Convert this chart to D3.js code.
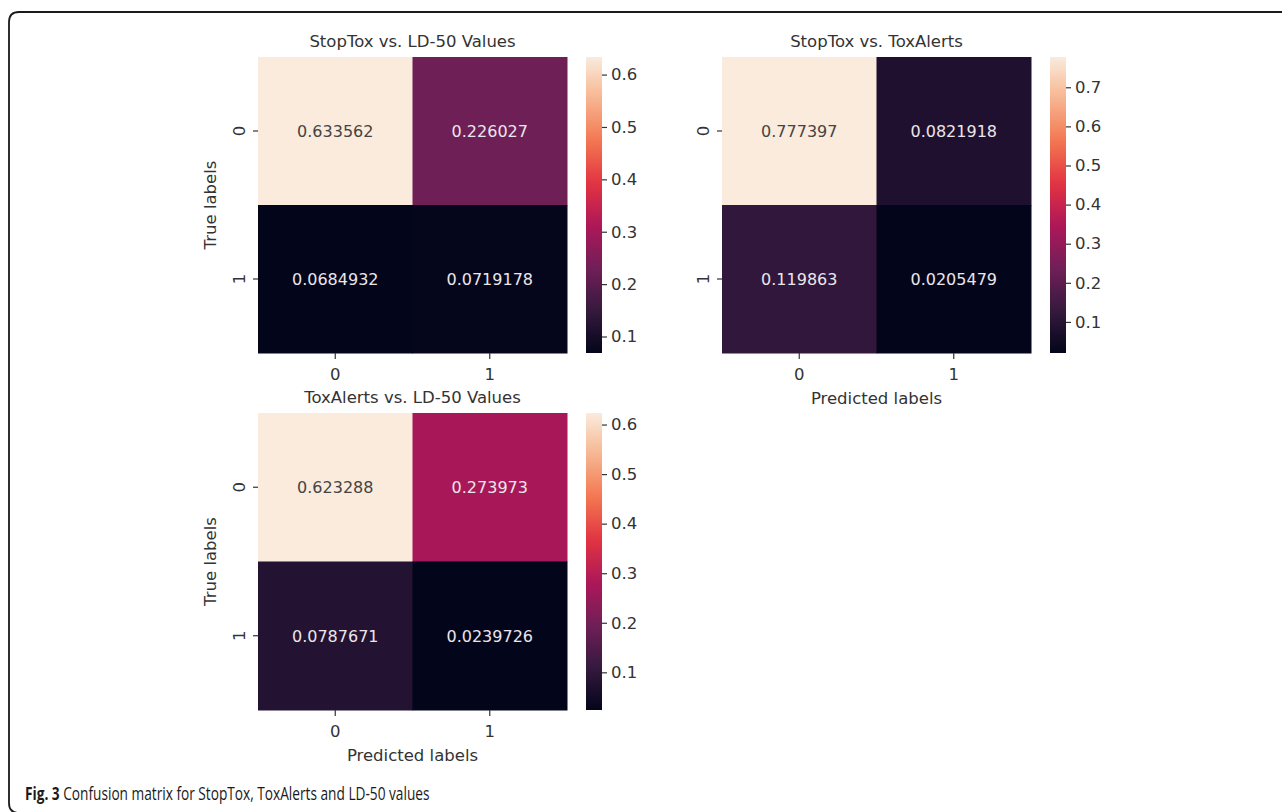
<!DOCTYPE html>
<html>
<head>
<meta charset="utf-8">
<script src="https://cdn.jsdelivr.net/npm/d3@7"></script>
<style>
  html, body { margin: 0; padding: 0; background: #ffffff; }
  svg { display: block; }
</style>
</head>
<body>
<svg id="chart" width="1282" height="812"></svg>
<script>
// ---------------- data ----------------
const classLabels = ["0", "1"];
const panelTitles = ["StopTox vs. LD-50 Values", "StopTox vs. ToxAlerts", "ToxAlerts vs. LD-50 Values"];
const stopToxVsLD50 = [[0.633562, 0.226027], [0.0684932, 0.0719178]];
const stopToxVsToxAlerts = [[0.777397, 0.0821918], [0.119863, 0.0205479]];
const toxAlertsVsLD50 = [[0.623288, 0.273973], [0.0787671, 0.0239726]];
const colorbarTicks1 = [0.1, 0.2, 0.3, 0.4, 0.5, 0.6];
const colorbarTicks2 = [0.1, 0.2, 0.3, 0.4, 0.5, 0.6, 0.7];
const colorbarTicks3 = [0.1, 0.2, 0.3, 0.4, 0.5, 0.6];
const yAxisTitle = "True labels";
const xAxisTitle = "Predicted labels";
const captionBold = "Fig. 3";
const captionText = " Confusion matrix for StopTox, ToxAlerts and LD-50 values";

// rocket colormap anchor colours (seaborn)
const rocketStops = ["#03051a", "#35193e", "#701f57", "#ad1759", "#e13342", "#f37651", "#f6b48f", "#faebdd"];

// ---------------- helpers ----------------
const rocket = d3.scaleLinear()
  .domain(rocketStops.map((_, i) => i / (rocketStops.length - 1)))
  .range(rocketStops)
  .interpolate(d3.interpolateRgb);

const fmt = d3.format(".6~g");
const svg = d3.select("#chart");
const FONT = "DejaVu Sans, sans-serif";
const TXT = "#333333";
const FS = 16.5;

// outer frame
svg.append("path")
  .attr("d", "M1290,12 L19,12 Q9,12 9,22 L9,803 Q9,813 19,813 L1290,813")
  .attr("fill", "none")
  .attr("stroke", "#1a1a1a")
  .attr("stroke-width", 1.8);

const defs = svg.append("defs");

const panels = [
  { data: stopToxVsLD50, title: panelTitles[0], ticks: colorbarTicks1, x: 258, y: 57, w: 309, h: 296, cbx: 586, showY: true, showX: false },
  { data: stopToxVsToxAlerts, title: panelTitles[1], ticks: colorbarTicks2, x: 722, y: 57, w: 309, h: 296, cbx: 1050, showY: false, showX: true },
  { data: toxAlertsVsLD50, title: panelTitles[2], ticks: colorbarTicks3, x: 258, y: 413, w: 309, h: 297, cbx: 586, showY: true, showX: true }
];

panels.forEach((p, pi) => {
  const g = svg.append("g").attr("transform", `translate(${p.x},${p.y})`);
  const flat = p.data.flat();
  const vmin = d3.min(flat), vmax = d3.max(flat);
  const norm = d3.scaleLinear().domain([vmin, vmax]).range([0, 1]).clamp(true);
  const color = v => rocket(norm(v));

  const xs = d3.scaleBand().domain(classLabels).range([0, p.w]);
  const ys = d3.scaleBand().domain(classLabels).range([0, p.h]);

  const cells = [];
  p.data.forEach((row, ri) => row.forEach((v, ci) => cells.push({ r: classLabels[ri], c: classLabels[ci], v })));

  g.selectAll("rect.cell").data(cells).enter().append("rect")
    .attr("class", "cell")
    .attr("x", d => xs(d.c))
    .attr("y", d => ys(d.r))
    .attr("width", xs.bandwidth() + 0.5)
    .attr("height", ys.bandwidth() + 0.5)
    .attr("fill", d => color(d.v));

  g.selectAll("text.annot").data(cells).enter().append("text")
    .attr("class", "annot")
    .attr("x", d => xs(d.c) + xs.bandwidth() / 2)
    .attr("y", d => ys(d.r) + ys.bandwidth() / 2)
    .attr("dy", "0.36em")
    .attr("text-anchor", "middle")
    .attr("font-family", FONT)
    .attr("font-size", 16)
    .attr("fill", d => (d3.hsl(color(d.v)).l > 0.55 ? "#444444" : "#ebe6ea"))
    .text(d => fmt(d.v));

  // title
  g.append("text")
    .attr("x", p.w / 2).attr("y", -10)
    .attr("text-anchor", "middle")
    .attr("font-family", FONT).attr("font-size", FS).attr("fill", TXT)
    .text(p.title);

  // x axis
  const xAxis = g.append("g").attr("transform", `translate(0,${p.h})`)
    .call(d3.axisBottom(xs).tickSize(6).tickPadding(9));
  xAxis.select(".domain").remove();
  xAxis.selectAll("line").attr("stroke", "#333").attr("stroke-width", 1.2);
  xAxis.selectAll("text").attr("font-family", FONT).attr("font-size", FS).attr("fill", TXT);

  // y axis (rotated tick labels)
  const yAxis = g.append("g").call(d3.axisLeft(ys).tickSize(5).tickPadding(4));
  yAxis.select(".domain").remove();
  yAxis.selectAll("line").attr("stroke", "#333").attr("stroke-width", 1.2);
  yAxis.selectAll("text")
    .attr("font-family", FONT).attr("font-size", FS).attr("fill", TXT)
    .attr("text-anchor", "middle")
    .attr("x", null)
    .attr("transform", "translate(-19,0) rotate(-90)")
    .attr("dy", "0.36em");

  if (p.showY) {
    g.append("text")
      .attr("transform", `translate(-42,${p.h / 2}) rotate(-90)`)
      .attr("text-anchor", "middle")
      .attr("font-family", FONT).attr("font-size", FS).attr("fill", TXT)
      .text(yAxisTitle);
  }
  if (p.showX) {
    g.append("text")
      .attr("x", p.w / 2).attr("y", p.h + 51)
      .attr("text-anchor", "middle")
      .attr("font-family", FONT).attr("font-size", FS).attr("fill", TXT)
      .text(xAxisTitle);
  }

  // colorbar
  const gradId = "grad" + pi;
  const grad = defs.append("linearGradient").attr("id", gradId)
    .attr("x1", 0).attr("y1", 1).attr("x2", 0).attr("y2", 0);
  d3.range(0, 1.0001, 0.02).forEach(t => {
    grad.append("stop").attr("offset", t).attr("stop-color", rocket(t));
  });
  const cbw = 16;
  const cb = svg.append("g").attr("transform", `translate(${p.cbx},${p.y})`);
  cb.append("rect").attr("width", cbw).attr("height", p.h).attr("fill", `url(#${gradId})`);
  const cbScale = d3.scaleLinear().domain([vmin, vmax]).range([p.h, 0]);
  const cbAxis = cb.append("g").attr("transform", `translate(${cbw},0)`)
    .call(d3.axisRight(cbScale).tickValues(p.ticks).tickFormat(d3.format(".1f")).tickSize(5).tickPadding(4));
  cbAxis.select(".domain").remove();
  cbAxis.selectAll("line").attr("stroke", "#333").attr("stroke-width", 1.2);
  cbAxis.selectAll("text").attr("font-family", FONT).attr("font-size", FS).attr("fill", TXT);
});

// caption (condensed by horizontal scaling to match the journal font width)
const capG = svg.append("g");
const cap = capG.append("text")
  .attr("x", 0).attr("y", 0)
  .attr("font-family", "'Open Sans', 'Noto Sans', sans-serif")
  .attr("font-size", 18)
  .attr("fill", "#1a1a1a");
cap.append("tspan").attr("font-weight", "bold").text(captionBold);
cap.append("tspan").text(captionText);
const capW = cap.node().getComputedTextLength() || 500;
capG.attr("transform", `translate(25,800) scale(${405 / capW},1)`);
</script>
</body>
</html>
